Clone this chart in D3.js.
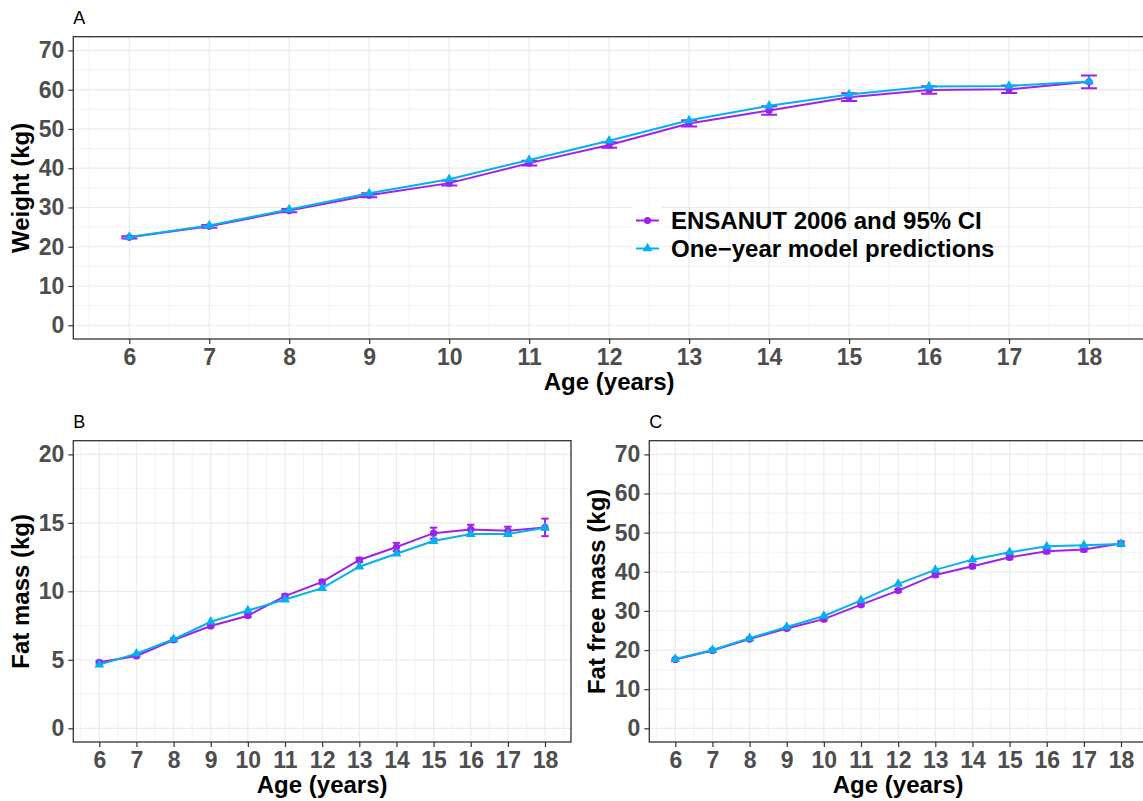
<!DOCTYPE html>
<html>
<head>
<meta charset="utf-8">
<script src="https://cdn.jsdelivr.net/npm/d3@7"></script>
<style>
  html, body { margin: 0; padding: 0; background: #fff; }
  svg { display: block; font-family: "Liberation Sans", Arial, sans-serif; }
</style>
</head>
<body>
<svg id="chart" width="1143" height="801"></svg>
<script>
// ---- Data ----
const ages = [6, 7, 8, 9, 10, 11, 12, 13, 14, 15, 16, 17, 18];

// Panel A: weight (kg)
const weightObs   = [22.4, 25.2, 29.2, 33.1, 36.2, 41.3, 45.9, 51.4, 54.7, 58.1, 59.9, 60.1, 62.0];
const weightCI    = [0.3, 0.35, 0.4, 0.5, 0.6, 0.6, 0.7, 0.8, 1.1, 1.0, 0.95, 0.95, 1.6];
const weightModel = [22.5, 25.4, 29.5, 33.6, 37.2, 42.1, 47.0, 52.2, 55.9, 58.8, 60.8, 60.95, 62.1];

// Panel B: fat mass (kg)
const fatObs   = [4.82, 5.28, 6.45, 7.47, 8.22, 9.65, 10.69, 12.29, 13.24, 14.25, 14.52, 14.42, 14.67];
const fatCI    = [0.1, 0.1, 0.1, 0.1, 0.12, 0.12, 0.15, 0.16, 0.3, 0.4, 0.34, 0.3, 0.64];
const fatModel = [4.65, 5.45, 6.5, 7.78, 8.6, 9.4, 10.23, 11.8, 12.75, 13.67, 14.18, 14.18, 14.64];

// Panel C: fat free mass (kg)
const ffmObs   = [17.6, 19.9, 22.8, 25.5, 27.9, 31.6, 35.2, 39.2, 41.4, 43.7, 45.25, 45.7, 47.2];
const ffmCI    = [0.25, 0.25, 0.3, 0.3, 0.35, 0.4, 0.4, 0.45, 0.45, 0.5, 0.5, 0.5, 0.6];
const ffmModel = [17.7, 20.0, 23.0, 25.9, 28.7, 32.7, 36.9, 40.5, 43.1, 45.0, 46.5, 46.8, 47.1];

const yTicksWeight = [0, 10, 20, 30, 40, 50, 60, 70];
const yTicksFat    = [0, 5, 10, 15, 20];
const yTicksFFM    = [0, 10, 20, 30, 40, 50, 60, 70];

const legendLabels = ["ENSANUT 2006 and 95% CI", "One\u2212year model predictions"];

// ---- Style ----
const PURPLE = "#A020F0";
const CYAN = "#00B2EE";
const GRID = "#EBEBEB";
const DARK = "#333333";
const TICKTXT = "#4D4D4D";
const FONT_TICK = 23;
const FONT_TITLE = 24;

const svg = d3.select("#chart");

function panel(cfg) {
  const g = svg.append("g");
  const x = d3.scaleLinear().domain([5.3, 18.7]).range([cfg.left, cfg.right]);
  const y = d3.scaleLinear().domain(cfg.yDomain).range([cfg.bottom, cfg.top]);

  const clipId = "clip" + cfg.label;
  svg.append("clipPath").attr("id", clipId)
    .append("rect").attr("x", cfg.left).attr("y", cfg.top)
    .attr("width", cfg.right - cfg.left).attr("height", cfg.bottom - cfg.top);

  const plot = g.append("g").attr("clip-path", `url(#${clipId})`);
  plot.append("rect").attr("x", cfg.left).attr("y", cfg.top)
    .attr("width", cfg.right - cfg.left).attr("height", cfg.bottom - cfg.top).attr("fill", "#fff");

  // minor grid
  const step = cfg.yTicks[1] - cfg.yTicks[0];
  const yMinor = [];
  for (let v = cfg.yTicks[0] - step / 2; v <= cfg.yTicks[cfg.yTicks.length - 1] + step / 2; v += step) yMinor.push(v);
  const xMinor = ages.map(a => a - 0.5).concat([18.5]);
  plot.selectAll(".ymin").data(yMinor).enter().append("line")
    .attr("x1", cfg.left).attr("x2", cfg.right).attr("y1", d => y(d)).attr("y2", d => y(d))
    .attr("stroke", GRID).attr("stroke-width", 0.6);
  plot.selectAll(".xmin").data(xMinor).enter().append("line")
    .attr("y1", cfg.top).attr("y2", cfg.bottom).attr("x1", d => x(d)).attr("x2", d => x(d))
    .attr("stroke", GRID).attr("stroke-width", 0.6);
  // major grid
  plot.selectAll(".ymaj").data(cfg.yTicks).enter().append("line")
    .attr("x1", cfg.left).attr("x2", cfg.right).attr("y1", d => y(d)).attr("y2", d => y(d))
    .attr("stroke", GRID).attr("stroke-width", 1.2);
  plot.selectAll(".xmaj").data(ages).enter().append("line")
    .attr("y1", cfg.top).attr("y2", cfg.bottom).attr("x1", d => x(d)).attr("x2", d => x(d))
    .attr("stroke", GRID).attr("stroke-width", 1.2);

  const line = d3.line().x((d, i) => x(ages[i])).y(d => y(d));

  // observed series with error bars
  plot.append("path").datum(cfg.obs).attr("d", line)
    .attr("fill", "none").attr("stroke", PURPLE).attr("stroke-width", 2);
  const eb = plot.selectAll(".eb").data(cfg.obs).enter().append("g");
  eb.append("line").attr("x1", (d, i) => x(ages[i])).attr("x2", (d, i) => x(ages[i]))
    .attr("y1", (d, i) => y(d - cfg.ci[i])).attr("y2", (d, i) => y(d + cfg.ci[i]))
    .attr("stroke", PURPLE).attr("stroke-width", 2);
  eb.append("line").attr("x1", (d, i) => x(ages[i] - 0.1)).attr("x2", (d, i) => x(ages[i] + 0.1))
    .attr("y1", (d, i) => y(d - cfg.ci[i])).attr("y2", (d, i) => y(d - cfg.ci[i]))
    .attr("stroke", PURPLE).attr("stroke-width", 2);
  eb.append("line").attr("x1", (d, i) => x(ages[i] - 0.1)).attr("x2", (d, i) => x(ages[i] + 0.1))
    .attr("y1", (d, i) => y(d + cfg.ci[i])).attr("y2", (d, i) => y(d + cfg.ci[i]))
    .attr("stroke", PURPLE).attr("stroke-width", 2);
  plot.selectAll(".pt").data(cfg.obs).enter().append("circle")
    .attr("cx", (d, i) => x(ages[i])).attr("cy", d => y(d)).attr("r", 3.6).attr("fill", PURPLE);

  // model series
  plot.append("path").datum(cfg.model).attr("d", line)
    .attr("fill", "none").attr("stroke", CYAN).attr("stroke-width", 2);
  const tri = d3.symbol().type(d3.symbolTriangle).size(42);
  plot.selectAll(".tri").data(cfg.model).enter().append("path")
    .attr("d", tri).attr("transform", (d, i) => `translate(${x(ages[i])},${y(d)})`)
    .attr("fill", CYAN);

  // border
  g.append("rect").attr("x", cfg.left).attr("y", cfg.top)
    .attr("width", cfg.right - cfg.left).attr("height", cfg.bottom - cfg.top)
    .attr("fill", "none").attr("stroke", DARK).attr("stroke-width", 1.3);

  // axes
  const xAxis = d3.axisBottom(x).tickValues(ages).tickSize(5).tickPadding(4).tickFormat(d3.format("d"));
  const xg = g.append("g").attr("transform", `translate(0,${cfg.bottom})`).call(xAxis);
  const yAxis = d3.axisLeft(y).tickValues(cfg.yTicks).tickSize(5).tickPadding(4).tickFormat(d3.format("d"));
  const yg = g.append("g").attr("transform", `translate(${cfg.left},0)`).call(yAxis);
  [xg, yg].forEach(a => {
    a.select(".domain").remove();
    a.selectAll(".tick line").attr("stroke", DARK).attr("stroke-width", 1.2);
    a.selectAll(".tick text").attr("fill", TICKTXT).attr("font-weight", "bold")
      .attr("font-size", FONT_TICK).attr("font-family", "Liberation Sans, Arial, sans-serif");
  });
  xg.selectAll(".tick text").attr("dy", null).attr("y", 25.5);

  // titles
  g.append("text").attr("x", (cfg.left + cfg.right) / 2 + cfg.xTitleShift).attr("y", cfg.bottom + 51)
    .attr("text-anchor", "middle").attr("font-weight", "bold").attr("font-size", FONT_TITLE)
    .attr("fill", "#000").text("Age (years)");
  g.append("text")
    .attr("transform", `translate(${cfg.left - 44},${(cfg.top + cfg.bottom) / 2}) rotate(-90)`)
    .attr("text-anchor", "middle").attr("font-weight", "bold").attr("font-size", FONT_TITLE)
    .attr("fill", "#000").text(cfg.yTitle);
  g.append("text").attr("x", cfg.left).attr("y", cfg.top - 13).attr("font-size", 18)
    .attr("fill", "#000").text(cfg.label);
  return { x, y };
}

panel({ label: "A", left: 73.3, right: 1145, top: 36.7, bottom: 339, yDomain: [-3.5, 73.5],
  yTicks: yTicksWeight, obs: weightObs, ci: weightCI, model: weightModel, yTitle: "Weight (kg)", xTitleShift: 0 });
panel({ label: "B", left: 73.3, right: 571, top: 440.7, bottom: 742, yDomain: [-1, 21],
  yTicks: yTicksFat, obs: fatObs, ci: fatCI, model: fatModel, yTitle: "Fat mass (kg)", xTitleShift: 0 });
panel({ label: "C", left: 649.3, right: 1147, top: 440.7, bottom: 742, yDomain: [-3.5, 73.5],
  yTicks: yTicksFFM, obs: ffmObs, ci: ffmCI, model: ffmModel, yTitle: "Fat free mass (kg)", xTitleShift: 0 });

// ---- Legend (panel A) ----
const legend = svg.append("g");
const rows = [220.5, 248.5];
const legColors = [PURPLE, CYAN];
rows.forEach((ry, i) => {
  legend.append("rect").attr("x", 633).attr("y", ry - 14).attr("width", 29).attr("height", 28).attr("fill", "#fff");
  legend.append("line").attr("x1", 636).attr("x2", 659).attr("y1", ry).attr("y2", ry)
    .attr("stroke", legColors[i]).attr("stroke-width", 2);
  if (i === 0) {
    legend.append("circle").attr("cx", 647.5).attr("cy", ry).attr("r", 3.6).attr("fill", PURPLE);
  } else {
    legend.append("path").attr("d", d3.symbol().type(d3.symbolTriangle).size(42)())
      .attr("transform", `translate(647.5,${ry})`).attr("fill", CYAN);
  }
  legend.append("text").attr("x", 671).attr("y", ry + 8.6).attr("font-weight", "bold")
    .attr("font-size", 24).attr("fill", "#000").text(legendLabels[i]);
});
</script>
</body>
</html>
